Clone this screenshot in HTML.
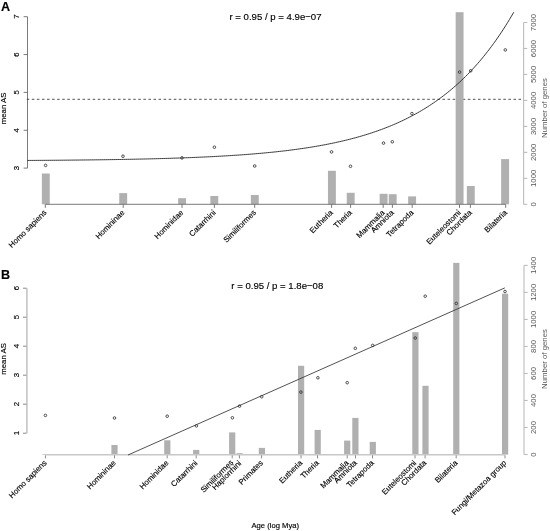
<!DOCTYPE html>
<html><head><meta charset="utf-8"><style>
html,body{margin:0;padding:0;background:#fff;width:550px;height:531px;overflow:hidden}
svg{display:block;will-change:transform}
text{font-family:"Liberation Sans",sans-serif;stroke:currentColor;stroke-width:0.15px}
</style></head><body>
<svg width="550" height="531" viewBox="0 0 550 531">
<rect width="550" height="531" fill="#fff"/>
<text x="1" y="10.6" font-size="12.6" font-weight="bold" font-family="Liberation Sans, sans-serif">A</text>
<text x="275.5" y="19.8" font-size="9.6" text-anchor="middle" font-family="Liberation Sans, sans-serif">r = 0.95 / p = 4.9e−07</text>
<path d="M27.5 16.70V168.10" stroke="#6c6c6c" stroke-width="0.9" fill="none"/>
<path d="M23.6 168.10H27.5" stroke="#6c6c6c" stroke-width="0.9"/>
<text transform="translate(19.2,168.10) rotate(-90)" font-size="7.8" text-anchor="middle" font-family="Liberation Sans, sans-serif">3</text>
<path d="M23.6 130.25H27.5" stroke="#6c6c6c" stroke-width="0.9"/>
<text transform="translate(19.2,130.25) rotate(-90)" font-size="7.8" text-anchor="middle" font-family="Liberation Sans, sans-serif">4</text>
<path d="M23.6 92.40H27.5" stroke="#6c6c6c" stroke-width="0.9"/>
<text transform="translate(19.2,92.40) rotate(-90)" font-size="7.8" text-anchor="middle" font-family="Liberation Sans, sans-serif">5</text>
<path d="M23.6 54.55H27.5" stroke="#6c6c6c" stroke-width="0.9"/>
<text transform="translate(19.2,54.55) rotate(-90)" font-size="7.8" text-anchor="middle" font-family="Liberation Sans, sans-serif">6</text>
<path d="M23.6 16.70H27.5" stroke="#6c6c6c" stroke-width="0.9"/>
<text transform="translate(19.2,16.70) rotate(-90)" font-size="7.8" text-anchor="middle" font-family="Liberation Sans, sans-serif">7</text>
<text transform="translate(6.4,108.4) rotate(-90)" font-size="7.8" text-anchor="middle" font-family="Liberation Sans, sans-serif">mean AS</text>
<path d="M523.6 204.30V22.50" stroke="#bcbcbc" stroke-width="1.1" fill="none"/>
<path d="M523.6 204.30H527.3" stroke="#bcbcbc" stroke-width="1.1"/>
<text transform="translate(536.3,204.30) rotate(-90)" font-size="7.8" text-anchor="middle" fill="#555" style="stroke:none" font-family="Liberation Sans, sans-serif">0</text>
<path d="M523.6 178.33H527.3" stroke="#bcbcbc" stroke-width="1.1"/>
<text transform="translate(536.3,178.33) rotate(-90)" font-size="7.8" text-anchor="middle" fill="#555" style="stroke:none" font-family="Liberation Sans, sans-serif">1000</text>
<path d="M523.6 152.36H527.3" stroke="#bcbcbc" stroke-width="1.1"/>
<text transform="translate(536.3,152.36) rotate(-90)" font-size="7.8" text-anchor="middle" fill="#555" style="stroke:none" font-family="Liberation Sans, sans-serif">2000</text>
<path d="M523.6 126.39H527.3" stroke="#bcbcbc" stroke-width="1.1"/>
<text transform="translate(536.3,126.39) rotate(-90)" font-size="7.8" text-anchor="middle" fill="#555" style="stroke:none" font-family="Liberation Sans, sans-serif">3000</text>
<path d="M523.6 100.41H527.3" stroke="#bcbcbc" stroke-width="1.1"/>
<text transform="translate(536.3,100.41) rotate(-90)" font-size="7.8" text-anchor="middle" fill="#555" style="stroke:none" font-family="Liberation Sans, sans-serif">4000</text>
<path d="M523.6 74.44H527.3" stroke="#bcbcbc" stroke-width="1.1"/>
<text transform="translate(536.3,74.44) rotate(-90)" font-size="7.8" text-anchor="middle" fill="#555" style="stroke:none" font-family="Liberation Sans, sans-serif">5000</text>
<path d="M523.6 48.47H527.3" stroke="#bcbcbc" stroke-width="1.1"/>
<text transform="translate(536.3,48.47) rotate(-90)" font-size="7.8" text-anchor="middle" fill="#555" style="stroke:none" font-family="Liberation Sans, sans-serif">6000</text>
<path d="M523.6 22.50H527.3" stroke="#bcbcbc" stroke-width="1.1"/>
<text transform="translate(536.3,22.50) rotate(-90)" font-size="7.8" text-anchor="middle" fill="#555" style="stroke:none" font-family="Liberation Sans, sans-serif">7000</text>
<text transform="translate(547.3,108) rotate(-90)" font-size="7.8" text-anchor="middle" fill="#555" style="stroke:none" font-family="Liberation Sans, sans-serif">Number of genes</text>
<path d="M26.75 99.3H521.2" stroke="#333" stroke-width="0.85" stroke-dasharray="2.54 2.53"/>
<rect x="41.85" y="173.5" width="7.9" height="30.80" fill="#b0b0b0"/>
<rect x="119.25" y="193.1" width="7.9" height="11.20" fill="#b0b0b0"/>
<rect x="178.15" y="198.2" width="7.9" height="6.10" fill="#b0b0b0"/>
<rect x="210.35" y="196" width="7.9" height="8.30" fill="#b0b0b0"/>
<rect x="250.85" y="195" width="7.9" height="9.30" fill="#b0b0b0"/>
<rect x="327.95" y="170.8" width="7.9" height="33.50" fill="#b0b0b0"/>
<rect x="346.75" y="192.8" width="7.9" height="11.50" fill="#b0b0b0"/>
<rect x="379.65" y="193.8" width="7.9" height="10.50" fill="#b0b0b0"/>
<rect x="388.75" y="194.2" width="7.9" height="10.10" fill="#b0b0b0"/>
<rect x="408.15" y="196.4" width="7.9" height="7.90" fill="#b0b0b0"/>
<rect x="455.65" y="12.2" width="7.9" height="192.10" fill="#b0b0b0"/>
<rect x="466.85" y="186" width="7.9" height="18.30" fill="#b0b0b0"/>
<rect x="501.15" y="159.1" width="7.9" height="45.20" fill="#b0b0b0"/>
<path d="M45.3 204.3H505.7" stroke="#6c6c6c" stroke-width="0.9"/>
<path d="M45.3 204.3V207.9" stroke="#6c6c6c" stroke-width="0.9"/>
<text transform="translate(47.10,213.10) rotate(-45)" font-size="7.8" text-anchor="end" font-family="Liberation Sans, sans-serif">Homo sapiens</text>
<path d="M123.2 204.3V207.9" stroke="#6c6c6c" stroke-width="0.9"/>
<text transform="translate(125.00,213.10) rotate(-45)" font-size="7.8" text-anchor="end" font-family="Liberation Sans, sans-serif">Homininae</text>
<path d="M182 204.3V207.9" stroke="#6c6c6c" stroke-width="0.9"/>
<text transform="translate(183.80,213.10) rotate(-45)" font-size="7.8" text-anchor="end" font-family="Liberation Sans, sans-serif">Hominidae</text>
<path d="M214.4 204.3V207.9" stroke="#6c6c6c" stroke-width="0.9"/>
<text transform="translate(216.20,213.10) rotate(-45)" font-size="7.8" text-anchor="end" font-family="Liberation Sans, sans-serif">Catarrhini</text>
<path d="M254.7 204.3V207.9" stroke="#6c6c6c" stroke-width="0.9"/>
<text transform="translate(256.50,213.10) rotate(-45)" font-size="7.8" text-anchor="end" font-family="Liberation Sans, sans-serif">Similiformes</text>
<path d="M331.6 204.3V207.9" stroke="#6c6c6c" stroke-width="0.9"/>
<text transform="translate(333.40,213.10) rotate(-45)" font-size="7.8" text-anchor="end" font-family="Liberation Sans, sans-serif">Eutheria</text>
<path d="M350.6 204.3V207.9" stroke="#6c6c6c" stroke-width="0.9"/>
<text transform="translate(352.40,213.10) rotate(-45)" font-size="7.8" text-anchor="end" font-family="Liberation Sans, sans-serif">Theria</text>
<path d="M383.2 204.3V207.9" stroke="#6c6c6c" stroke-width="0.9"/>
<text transform="translate(385.00,213.10) rotate(-45)" font-size="7.8" text-anchor="end" font-family="Liberation Sans, sans-serif">Mammalia</text>
<path d="M392.4 204.3V207.9" stroke="#6c6c6c" stroke-width="0.9"/>
<text transform="translate(394.20,213.10) rotate(-45)" font-size="7.8" text-anchor="end" font-family="Liberation Sans, sans-serif">Amniota</text>
<path d="M412.2 204.3V207.9" stroke="#6c6c6c" stroke-width="0.9"/>
<text transform="translate(414.00,213.10) rotate(-45)" font-size="7.8" text-anchor="end" font-family="Liberation Sans, sans-serif">Tetrapoda</text>
<path d="M459.5 204.3V207.9" stroke="#6c6c6c" stroke-width="0.9"/>
<text transform="translate(461.30,213.10) rotate(-45)" font-size="7.8" text-anchor="end" font-family="Liberation Sans, sans-serif">Euteleostomi</text>
<path d="M470.4 204.3V207.9" stroke="#6c6c6c" stroke-width="0.9"/>
<text transform="translate(472.20,213.10) rotate(-45)" font-size="7.8" text-anchor="end" font-family="Liberation Sans, sans-serif">Chordata</text>
<path d="M505.7 204.3V207.9" stroke="#6c6c6c" stroke-width="0.9"/>
<text transform="translate(507.50,213.10) rotate(-45)" font-size="7.8" text-anchor="end" font-family="Liberation Sans, sans-serif">Bilateria</text>
<path d="M27.50 160.45 L29.50 160.43 L31.50 160.42 L33.50 160.41 L35.50 160.40 L37.50 160.38 L39.50 160.37 L41.50 160.36 L43.50 160.34 L45.50 160.33 L47.50 160.32 L49.50 160.30 L51.50 160.29 L53.50 160.27 L55.50 160.25 L57.50 160.24 L59.50 160.22 L61.50 160.20 L63.50 160.19 L65.50 160.17 L67.50 160.15 L69.50 160.13 L71.50 160.11 L73.50 160.09 L75.50 160.07 L77.50 160.05 L79.50 160.03 L81.50 160.01 L83.50 159.99 L85.50 159.96 L87.50 159.94 L89.50 159.92 L91.50 159.89 L93.50 159.87 L95.50 159.84 L97.50 159.82 L99.50 159.79 L101.50 159.76 L103.50 159.73 L105.50 159.71 L107.50 159.68 L109.50 159.65 L111.50 159.62 L113.50 159.58 L115.50 159.55 L117.50 159.52 L119.50 159.49 L121.50 159.45 L123.50 159.42 L125.50 159.38 L127.50 159.34 L129.50 159.30 L131.50 159.27 L133.50 159.23 L135.50 159.18 L137.50 159.14 L139.50 159.10 L141.50 159.06 L143.50 159.01 L145.50 158.97 L147.50 158.92 L149.50 158.87 L151.50 158.82 L153.50 158.77 L155.50 158.72 L157.50 158.67 L159.50 158.61 L161.50 158.56 L163.50 158.50 L165.50 158.44 L167.50 158.38 L169.50 158.32 L171.50 158.26 L173.50 158.20 L175.50 158.13 L177.50 158.07 L179.50 158.00 L181.50 157.93 L183.50 157.86 L185.50 157.78 L187.50 157.71 L189.50 157.63 L191.50 157.55 L193.50 157.47 L195.50 157.39 L197.50 157.30 L199.50 157.22 L201.50 157.13 L203.50 157.04 L205.50 156.95 L207.50 156.85 L209.50 156.76 L211.50 156.66 L213.50 156.55 L215.50 156.45 L217.50 156.34 L219.50 156.23 L221.50 156.12 L223.50 156.01 L225.50 155.89 L227.50 155.77 L229.50 155.65 L231.50 155.52 L233.50 155.39 L235.50 155.26 L237.50 155.13 L239.50 154.99 L241.50 154.85 L243.50 154.70 L245.50 154.55 L247.50 154.40 L249.50 154.25 L251.50 154.09 L253.50 153.93 L255.50 153.76 L257.50 153.59 L259.50 153.41 L261.50 153.24 L263.50 153.05 L265.50 152.86 L267.50 152.67 L269.50 152.48 L271.50 152.28 L273.50 152.07 L275.50 151.86 L277.50 151.64 L279.50 151.42 L281.50 151.20 L283.50 150.97 L285.50 150.73 L287.50 150.49 L289.50 150.24 L291.50 149.98 L293.50 149.72 L295.50 149.46 L297.50 149.18 L299.50 148.90 L301.50 148.62 L303.50 148.33 L305.50 148.03 L307.50 147.72 L309.50 147.41 L311.50 147.08 L313.50 146.75 L315.50 146.42 L317.50 146.07 L319.50 145.72 L321.50 145.36 L323.50 144.99 L325.50 144.61 L327.50 144.22 L329.50 143.82 L331.50 143.42 L333.50 143.00 L335.50 142.58 L337.50 142.14 L339.50 141.69 L341.50 141.24 L343.50 140.77 L345.50 140.29 L347.50 139.80 L349.50 139.30 L351.50 138.78 L353.50 138.26 L355.50 137.72 L357.50 137.17 L359.50 136.60 L361.50 136.02 L363.50 135.43 L365.50 134.83 L367.50 134.21 L369.50 133.57 L371.50 132.92 L373.50 132.25 L375.50 131.57 L377.50 130.88 L379.50 130.16 L381.50 129.43 L383.50 128.68 L385.50 127.92 L387.50 127.13 L389.50 126.33 L391.50 125.51 L393.50 124.67 L395.50 123.80 L397.50 122.92 L399.50 122.02 L401.50 121.10 L403.50 120.15 L405.50 119.18 L407.50 118.19 L409.50 117.17 L411.50 116.13 L413.50 115.07 L415.50 113.98 L417.50 112.86 L419.50 111.72 L421.50 110.55 L423.50 109.36 L425.50 108.13 L427.50 106.88 L429.50 105.59 L431.50 104.28 L433.50 102.93 L435.50 101.56 L437.50 100.15 L439.50 98.70 L441.50 97.22 L443.50 95.71 L445.50 94.16 L447.50 92.58 L449.50 90.95 L451.50 89.29 L453.50 87.59 L455.50 85.85 L457.50 84.06 L459.50 82.24 L461.50 80.37 L463.50 78.45 L465.50 76.49 L467.50 74.49 L469.50 72.44 L471.50 70.33 L473.50 68.18 L475.50 65.98 L477.50 63.72 L479.50 61.41 L481.50 59.05 L483.50 56.63 L485.50 54.15 L487.50 51.62 L489.50 49.02 L491.50 46.36 L493.50 43.64 L495.50 40.86 L497.50 38.00 L499.50 35.08 L501.50 32.10 L503.50 29.04 L505.50 25.90 L507.50 22.70 L509.50 19.41 L511.50 16.05 L513.50 12.61 L513.80 12.09" stroke="#222" stroke-width="0.9" fill="none"/>
<circle cx="45.6" cy="165.4" r="1.3" fill="none" stroke="#333" stroke-width="0.85"/>
<circle cx="123" cy="156.2" r="1.3" fill="none" stroke="#333" stroke-width="0.85"/>
<circle cx="182" cy="157.9" r="1.3" fill="none" stroke="#333" stroke-width="0.85"/>
<circle cx="214.4" cy="147.2" r="1.3" fill="none" stroke="#333" stroke-width="0.85"/>
<circle cx="254.7" cy="166" r="1.3" fill="none" stroke="#333" stroke-width="0.85"/>
<circle cx="331.5" cy="151.9" r="1.3" fill="none" stroke="#333" stroke-width="0.85"/>
<circle cx="350.5" cy="166.3" r="1.3" fill="none" stroke="#333" stroke-width="0.85"/>
<circle cx="383.5" cy="143.1" r="1.3" fill="none" stroke="#333" stroke-width="0.85"/>
<circle cx="392.3" cy="141.8" r="1.3" fill="none" stroke="#333" stroke-width="0.85"/>
<circle cx="411.9" cy="113.6" r="1.3" fill="none" stroke="#333" stroke-width="0.85"/>
<circle cx="459.6" cy="72.1" r="1.3" fill="none" stroke="#333" stroke-width="0.85"/>
<circle cx="470.7" cy="70.8" r="1.3" fill="none" stroke="#333" stroke-width="0.85"/>
<circle cx="505.3" cy="49.9" r="1.3" fill="none" stroke="#333" stroke-width="0.85"/>
<text x="1" y="278.8" font-size="12.6" font-weight="bold" font-family="Liberation Sans, sans-serif">B</text>
<text x="277.3" y="289.4" font-size="9.6" text-anchor="middle" font-family="Liberation Sans, sans-serif">r = 0.95 / p = 1.8e−08</text>
<path d="M26.9 288.20V433.20" stroke="#c8c8c8" stroke-width="1.7" fill="none"/>
<path d="M23 433.20H26.5" stroke="#8a8a8a" stroke-width="1"/>
<text transform="translate(19.2,433.20) rotate(-90)" font-size="7.8" text-anchor="middle" font-family="Liberation Sans, sans-serif">1</text>
<path d="M23 404.20H26.5" stroke="#8a8a8a" stroke-width="1"/>
<text transform="translate(19.2,404.20) rotate(-90)" font-size="7.8" text-anchor="middle" font-family="Liberation Sans, sans-serif">2</text>
<path d="M23 375.20H26.5" stroke="#8a8a8a" stroke-width="1"/>
<text transform="translate(19.2,375.20) rotate(-90)" font-size="7.8" text-anchor="middle" font-family="Liberation Sans, sans-serif">3</text>
<path d="M23 346.20H26.5" stroke="#8a8a8a" stroke-width="1"/>
<text transform="translate(19.2,346.20) rotate(-90)" font-size="7.8" text-anchor="middle" font-family="Liberation Sans, sans-serif">4</text>
<path d="M23 317.20H26.5" stroke="#8a8a8a" stroke-width="1"/>
<text transform="translate(19.2,317.20) rotate(-90)" font-size="7.8" text-anchor="middle" font-family="Liberation Sans, sans-serif">5</text>
<path d="M23 288.20H26.5" stroke="#8a8a8a" stroke-width="1"/>
<text transform="translate(19.2,288.20) rotate(-90)" font-size="7.8" text-anchor="middle" font-family="Liberation Sans, sans-serif">6</text>
<text transform="translate(6.4,358.9) rotate(-90)" font-size="7.8" text-anchor="middle" font-family="Liberation Sans, sans-serif">mean AS</text>
<path d="M524 454.50V265.40" stroke="#bcbcbc" stroke-width="1.1" fill="none"/>
<path d="M524 454.50H527.7" stroke="#bcbcbc" stroke-width="1.1"/>
<text transform="translate(535.8,454.50) rotate(-90)" font-size="7.8" text-anchor="middle" fill="#555" style="stroke:none" font-family="Liberation Sans, sans-serif">0</text>
<path d="M524 427.49H527.7" stroke="#bcbcbc" stroke-width="1.1"/>
<text transform="translate(535.8,427.49) rotate(-90)" font-size="7.8" text-anchor="middle" fill="#555" style="stroke:none" font-family="Liberation Sans, sans-serif">200</text>
<path d="M524 400.47H527.7" stroke="#bcbcbc" stroke-width="1.1"/>
<text transform="translate(535.8,400.47) rotate(-90)" font-size="7.8" text-anchor="middle" fill="#555" style="stroke:none" font-family="Liberation Sans, sans-serif">400</text>
<path d="M524 373.46H527.7" stroke="#bcbcbc" stroke-width="1.1"/>
<text transform="translate(535.8,373.46) rotate(-90)" font-size="7.8" text-anchor="middle" fill="#555" style="stroke:none" font-family="Liberation Sans, sans-serif">600</text>
<path d="M524 346.44H527.7" stroke="#bcbcbc" stroke-width="1.1"/>
<text transform="translate(535.8,346.44) rotate(-90)" font-size="7.8" text-anchor="middle" fill="#555" style="stroke:none" font-family="Liberation Sans, sans-serif">800</text>
<path d="M524 319.43H527.7" stroke="#bcbcbc" stroke-width="1.1"/>
<text transform="translate(535.8,319.43) rotate(-90)" font-size="7.8" text-anchor="middle" fill="#555" style="stroke:none" font-family="Liberation Sans, sans-serif">1000</text>
<path d="M524 292.42H527.7" stroke="#bcbcbc" stroke-width="1.1"/>
<text transform="translate(535.8,292.42) rotate(-90)" font-size="7.8" text-anchor="middle" fill="#555" style="stroke:none" font-family="Liberation Sans, sans-serif">1200</text>
<path d="M524 265.40H527.7" stroke="#bcbcbc" stroke-width="1.1"/>
<text transform="translate(535.8,265.40) rotate(-90)" font-size="7.8" text-anchor="middle" fill="#555" style="stroke:none" font-family="Liberation Sans, sans-serif">1400</text>
<text transform="translate(547.3,359) rotate(-90)" font-size="7.8" text-anchor="middle" fill="#555" style="stroke:none" font-family="Liberation Sans, sans-serif">Number of genes</text>
<rect x="42.30" y="454.0" width="6.2" height="0.60" fill="#b0b0b0"/>
<rect x="111.40" y="445" width="6.2" height="9.60" fill="#b0b0b0"/>
<rect x="164.20" y="440.3" width="6.2" height="14.30" fill="#b0b0b0"/>
<rect x="193.10" y="449.9" width="6.2" height="4.70" fill="#b0b0b0"/>
<rect x="229.10" y="432.4" width="6.2" height="22.20" fill="#b0b0b0"/>
<rect x="236.50" y="453.2" width="6.2" height="1.40" fill="#b0b0b0"/>
<rect x="258.80" y="447.9" width="6.2" height="6.70" fill="#b0b0b0"/>
<rect x="298.00" y="365.8" width="6.2" height="88.80" fill="#b0b0b0"/>
<rect x="314.60" y="429.9" width="6.2" height="24.70" fill="#b0b0b0"/>
<rect x="344.10" y="440.6" width="6.2" height="14.00" fill="#b0b0b0"/>
<rect x="352.30" y="417.9" width="6.2" height="36.70" fill="#b0b0b0"/>
<rect x="369.70" y="441.9" width="6.2" height="12.70" fill="#b0b0b0"/>
<rect x="412.30" y="332.2" width="6.2" height="122.40" fill="#b0b0b0"/>
<rect x="422.40" y="385.8" width="6.2" height="68.80" fill="#b0b0b0"/>
<rect x="453.20" y="262.9" width="6.2" height="191.70" fill="#b0b0b0"/>
<rect x="502.00" y="293.7" width="6.2" height="160.90" fill="#b0b0b0"/>
<path d="M45.4 454.8H505.0" stroke="#c8c8c8" stroke-width="1.5"/>
<path d="M45.4 455.3V458.4" stroke="#8a8a8a" stroke-width="1"/>
<text transform="translate(47.20,463.40) rotate(-45)" font-size="7.8" text-anchor="end" font-family="Liberation Sans, sans-serif">Homo sapiens</text>
<path d="M114.5 455.3V458.4" stroke="#8a8a8a" stroke-width="1"/>
<text transform="translate(116.30,463.40) rotate(-45)" font-size="7.8" text-anchor="end" font-family="Liberation Sans, sans-serif">Homininae</text>
<path d="M167.2 455.3V458.4" stroke="#8a8a8a" stroke-width="1"/>
<text transform="translate(169.00,463.40) rotate(-45)" font-size="7.8" text-anchor="end" font-family="Liberation Sans, sans-serif">Hominidae</text>
<path d="M196.2 455.3V458.4" stroke="#8a8a8a" stroke-width="1"/>
<text transform="translate(198.00,463.40) rotate(-45)" font-size="7.8" text-anchor="end" font-family="Liberation Sans, sans-serif">Catarrhini</text>
<path d="M232.2 455.3V458.4" stroke="#8a8a8a" stroke-width="1"/>
<text transform="translate(233.70,463.10) rotate(-45)" font-size="7.8" text-anchor="end" font-family="Liberation Sans, sans-serif">Similiformes</text>
<path d="M239.4 455.3V458.4" stroke="#8a8a8a" stroke-width="1"/>
<text transform="translate(241.80,463.80) rotate(-45)" font-size="7.8" text-anchor="end" font-family="Liberation Sans, sans-serif">Haplorrhini</text>
<path d="M261.6 455.3V458.4" stroke="#8a8a8a" stroke-width="1"/>
<text transform="translate(263.40,463.40) rotate(-45)" font-size="7.8" text-anchor="end" font-family="Liberation Sans, sans-serif">Primates</text>
<path d="M301 455.3V458.4" stroke="#8a8a8a" stroke-width="1"/>
<text transform="translate(302.80,463.40) rotate(-45)" font-size="7.8" text-anchor="end" font-family="Liberation Sans, sans-serif">Eutheria</text>
<path d="M317.5 455.3V458.4" stroke="#8a8a8a" stroke-width="1"/>
<text transform="translate(319.30,463.40) rotate(-45)" font-size="7.8" text-anchor="end" font-family="Liberation Sans, sans-serif">Theria</text>
<path d="M347.2 455.3V458.4" stroke="#8a8a8a" stroke-width="1"/>
<text transform="translate(349.00,463.40) rotate(-45)" font-size="7.8" text-anchor="end" font-family="Liberation Sans, sans-serif">Mammalia</text>
<path d="M355.5 455.3V458.4" stroke="#8a8a8a" stroke-width="1"/>
<text transform="translate(357.30,463.40) rotate(-45)" font-size="7.8" text-anchor="end" font-family="Liberation Sans, sans-serif">Amniota</text>
<path d="M372.5 455.3V458.4" stroke="#8a8a8a" stroke-width="1"/>
<text transform="translate(374.30,463.40) rotate(-45)" font-size="7.8" text-anchor="end" font-family="Liberation Sans, sans-serif">Tetrapoda</text>
<path d="M415 455.3V458.4" stroke="#8a8a8a" stroke-width="1"/>
<text transform="translate(416.80,463.40) rotate(-45)" font-size="7.8" text-anchor="end" font-family="Liberation Sans, sans-serif">Euteleostomi</text>
<path d="M425.1 455.3V458.4" stroke="#8a8a8a" stroke-width="1"/>
<text transform="translate(426.90,463.40) rotate(-45)" font-size="7.8" text-anchor="end" font-family="Liberation Sans, sans-serif">Chordata</text>
<path d="M456.2 455.3V458.4" stroke="#8a8a8a" stroke-width="1"/>
<text transform="translate(458.00,463.40) rotate(-45)" font-size="7.8" text-anchor="end" font-family="Liberation Sans, sans-serif">Bilateria</text>
<path d="M505.0 455.3V458.4" stroke="#8a8a8a" stroke-width="1"/>
<text transform="translate(506.80,463.40) rotate(-45)" font-size="7.8" text-anchor="end" font-family="Liberation Sans, sans-serif">Fungi/Metazoa group</text>
<path d="M128.0 455.0L504.8 287.9" stroke="#333" stroke-width="0.85"/>
<circle cx="45.4" cy="415.4" r="1.3" fill="none" stroke="#333" stroke-width="0.85"/>
<circle cx="114.5" cy="418" r="1.3" fill="none" stroke="#333" stroke-width="0.85"/>
<circle cx="167.2" cy="416.2" r="1.3" fill="none" stroke="#333" stroke-width="0.85"/>
<circle cx="196.4" cy="425.9" r="1.3" fill="none" stroke="#333" stroke-width="0.85"/>
<circle cx="232.4" cy="417.8" r="1.3" fill="none" stroke="#333" stroke-width="0.85"/>
<circle cx="239.5" cy="406.1" r="1.3" fill="none" stroke="#333" stroke-width="0.85"/>
<circle cx="261.7" cy="396.7" r="1.3" fill="none" stroke="#333" stroke-width="0.85"/>
<circle cx="300.9" cy="392.1" r="1.3" fill="none" stroke="#333" stroke-width="0.85"/>
<circle cx="317.9" cy="377.8" r="1.3" fill="none" stroke="#333" stroke-width="0.85"/>
<circle cx="347.2" cy="382.7" r="1.3" fill="none" stroke="#333" stroke-width="0.85"/>
<circle cx="355.3" cy="348.3" r="1.3" fill="none" stroke="#333" stroke-width="0.85"/>
<circle cx="372.7" cy="345.4" r="1.3" fill="none" stroke="#333" stroke-width="0.85"/>
<circle cx="415.2" cy="338" r="1.3" fill="none" stroke="#333" stroke-width="0.85"/>
<circle cx="425.2" cy="296.2" r="1.3" fill="none" stroke="#333" stroke-width="0.85"/>
<circle cx="456.3" cy="303.4" r="1.3" fill="none" stroke="#333" stroke-width="0.85"/>
<circle cx="505" cy="291.5" r="1.3" fill="none" stroke="#333" stroke-width="0.85"/>
<text x="275.3" y="528.2" font-size="7.65" text-anchor="middle" font-family="Liberation Sans, sans-serif">Age (log Mya)</text>
</svg></body></html>
